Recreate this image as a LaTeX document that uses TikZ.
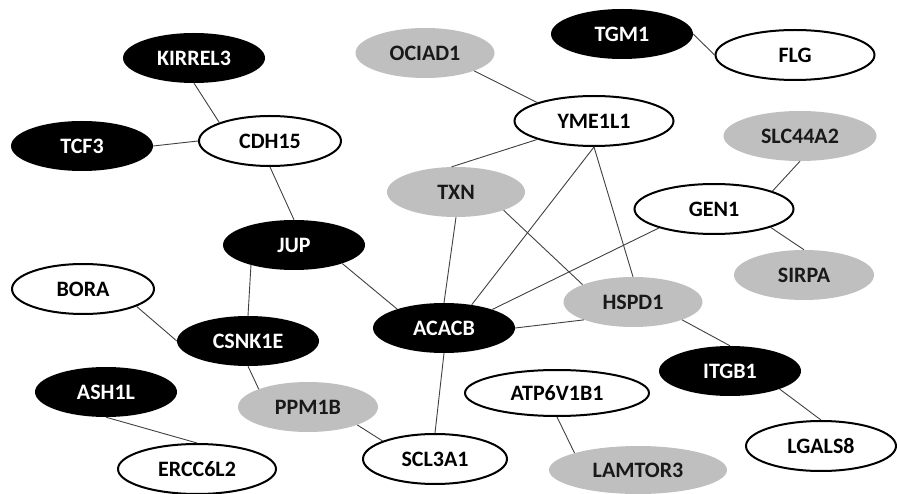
\documentclass[tikz,border=0pt]{standalone}
\usepackage{fontspec}
\setmainfont{Carlito}
\usetikzlibrary{shapes.geometric}

\begin{document}
\begin{tikzpicture}[
    x=1pt, y=-1pt,
    gene/.style = {
      ellipse,
      minimum width=142pt,
      minimum height=50pt,
      inner sep=0pt,
      font=\bfseries\fontsize{22}{22}\selectfont
    },
    blackgene/.style = {gene, fill=black, text=white},
    whitegene/.style = {gene, draw=black, line width=2pt, fill=white},
    graygene/.style = {gene, fill=black!25, text=black!90},
    link/.style = {line width=0.9pt, black!75}
  ]
    \useasboundingbox (0,0) rectangle (897,494);

    % upper left group
    \node[blackgene] (kirrel3) at (194,58) {KIRREL3};
    \node[blackgene] (tcf3) at (82,146) {TCF3};
    \node[whitegene] (cdh15) at (270,141) {CDH15};
    \node[blackgene] (jup) at (294,245) {JUP};

    % upper middle and right
    \node[graygene, minimum width=139pt] (ociad1) at (425,53) {OCIAD1};
    \node[blackgene] (tgm1) at (622,34) {TGM1};
    \node[whitegene, minimum width=159pt] (flg) at (795,55) {FLG};
    \node[whitegene, minimum width=159pt] (yme1l1) at (594,121) {YME1L1};
    \node[graygene, minimum width=153pt] (slc44a2) at (800,136) {SLC44A2};
    \node[graygene, minimum width=138pt] (txn) at (456,192) {TXN};
    \node[whitegene, minimum width=159pt] (gen1) at (714,209) {GEN1};
    \node[graygene, minimum width=140pt] (sirpa) at (804,275) {SIRPA};
    \node[graygene, minimum width=139pt] (hspd1) at (633,302) {HSPD1};

    % centre
    \node[blackgene] (acacb) at (444,328) {ACACB};
    \node[whitegene, minimum width=144pt] (scl3a1) at (435,459) {SCL3A1};

    % lower left group
    \node[whitegene] (bora) at (83,289) {BORA};
    \node[blackgene] (csnk1e) at (248,341) {CSNK1E};
    \node[blackgene] (ash1l) at (106,392) {ASH1L};
    \node[graygene, minimum width=140pt] (ppm1b) at (308,407) {PPM1B};
    \node[whitegene, minimum width=158pt] (ercc6l2) at (197,469) {ERCC6L2};

    % lower right group
    \node[blackgene] (itgb1) at (730,371) {ITGB1};
    \node[whitegene, minimum width=184pt, minimum height=46pt] (atp6v1b1) at (557,393) {ATP6V1B1};
    \node[graygene, minimum width=178pt, minimum height=48pt] (lamtor3) at (638,470) {LAMTOR3};
    \node[whitegene, minimum width=150pt] (lgals8) at (821,446) {LGALS8};

    % links
    \draw[link] (kirrel3.south) -- (cdh15.160);
    \draw[link] (tcf3.east) -- (cdh15.west);
    \draw[link] (cdh15.south) -- (jup.north);
    \draw[link] (jup.-155) -- (csnk1e.north);
    \draw[link] (jup.-21) -- (acacb.158);
    \draw[link] (bora.-18) -- (csnk1e.west);
    \draw[link] (csnk1e.south) -- (ppm1b.160);
    \draw[link] (ppm1b.-20) -- (scl3a1.161);
    \draw[link] (ash1l.south) -- (ercc6l2.north);
    \draw[link] (ociad1.-20) -- (yme1l1.162);
    \draw[link] (tgm1.east) -- (flg.west);
    \draw[link] (yme1l1.-162) -- (txn.100);
    \draw[link] (yme1l1.south) -- (acacb.40);
    \draw[link] (yme1l1.south) -- (hspd1.north);
    \draw[link] (slc44a2.south) -- (gen1.17);
    \draw[link] (gen1.-18) -- (sirpa.north);
    \draw[link] (gen1.-161) -- (acacb.21);
    \draw[link] (txn.south) -- (acacb.north);
    \draw[link] (txn.-21) -- (hspd1.161);
    \draw[link] (acacb.east) -- (hspd1.-160);
    \draw[link] (acacb.south) -- (scl3a1.north);
    \draw[link] (hspd1.-20) -- (itgb1.north);
    \draw[link] (itgb1.-20) -- (lgals8.north);
    \draw[link] (atp6v1b1.south) -- (lamtor3.165);
  \end{tikzpicture}
\end{document}
